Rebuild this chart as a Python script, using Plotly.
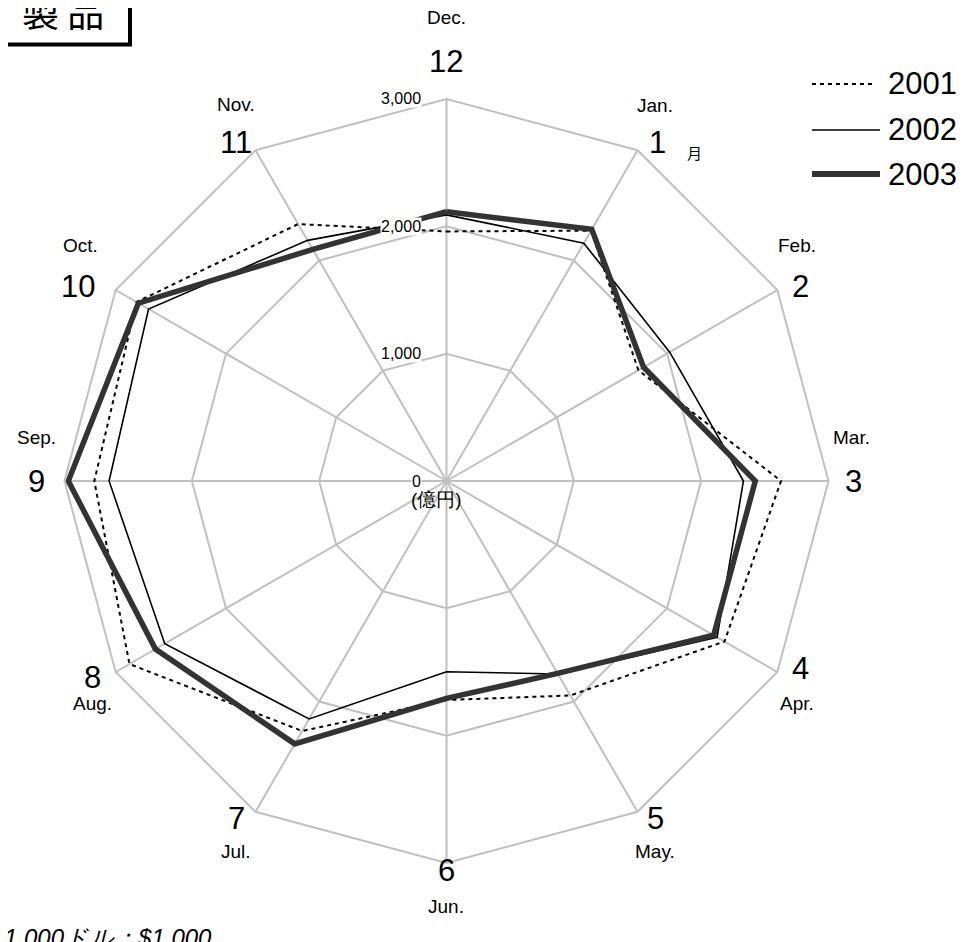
import plotly.graph_objects as go

# ---------------- data ----------------
months = ["12", "1", "2", "3", "4", "5", "6", "7", "8", "9", "10", "11"]
month_abbr = ["Dec.", "Jan.", "Feb.", "Mar.", "Apr.", "May.", "Jun.", "Jul.", "Aug.", "Sep.", "Oct.", "Nov."]
series_names = ["2001", "2002", "2003"]
y2001 = [1960, 2270, 1740, 2627, 2521, 1945, 1720, 2267, 2875, 2766, 2811, 2330]
y2002 = [2090, 2157, 2024, 2332, 2454, 1750, 1498, 2158, 2555, 2650, 2702, 2182]
y2003 = [2115, 2282, 1787, 2425, 2423, 1745, 1707, 2384, 2640, 2970, 2794, 2100]
radial_ticks = [0, 1000, 2000, 3000]
radial_tick_labels = ["0", "1,000", "2,000", "3,000"]
unit_label = "(億円)"
month_unit = "月"
title_text = "製 品"
note_text = "1,000ドル：$1,000"

# ---------------- page geometry ----------------
OFF = 8
W, H = 960, 934
def px(x):
    return (x - OFF) / W
def py(y):
    return 1 - (y - OFF) / H

CX, CY, R = 446.5, 481.0, 382.0
RMAX = 3000

FONT = "Liberation Sans, Arial, sans-serif"
JFONT = "Noto Sans CJK JP, sans-serif"
GRID = "#c0c0c0"

fig = go.Figure()

styles = [
    dict(color="black", width=2, dash="4px,4px"),
    dict(color="black", width=1.6),
    dict(color="#333333", width=5.5),
]
for name, vals, st in zip(series_names, [y2001, y2002, y2003], styles):
    fig.add_trace(go.Scatterpolar(
        r=vals + [vals[0]], theta=months + [months[0]],
        mode="lines", line=st, name=name, showlegend=False,
        hoverinfo="skip"))

fig.update_layout(
    width=W, height=H,
    margin=dict(l=0, r=0, t=0, b=0),
    paper_bgcolor="white",
    polar=dict(
        domain=dict(x=[px(CX - R), px(CX + R)], y=[py(CY + R), py(CY - R)]),
        bgcolor="white",
        gridshape="linear",
        angularaxis=dict(
            type="category", categoryarray=months, rotation=90,
            direction="clockwise", showticklabels=False, ticks="",
            showgrid=True, gridcolor=GRID, gridwidth=2,
            showline=True, linecolor=GRID, linewidth=2),
        radialaxis=dict(
            range=[0, RMAX], tickvals=radial_ticks[1:], showticklabels=False,
            ticks="", showgrid=True, gridcolor=GRID, gridwidth=2,
            showline=False),
    ),
)

def note(text, x, y, size, family=FONT, xanchor="center", yanchor="middle", **kw):
    d = dict(text=text, x=px(x), y=py(y), xref="paper", yref="paper",
             showarrow=False, xanchor=xanchor, yanchor=yanchor,
             font=dict(family=family, size=size, color="black", **kw.pop("font_extra", {})))
    d.update(kw)
    return d

ann = []
label_pos = {
    "12": (446, 62), "1": (657, 143), "2": (800, 286), "3": (853, 481),
    "4": (800, 668), "5": (655, 818), "6": (446, 870), "7": (236, 818),
    "8": (92, 677), "9": (36, 481), "10": (78, 286), "11": (236, 143),
}
abbr_pos = {
    "Dec.": (446, 18), "Jan.": (655, 105), "Feb.": (797, 246), "Mar.": (851, 437),
    "Apr.": (797, 703), "May.": (655, 851), "Jun.": (446, 906), "Jul.": (236, 851),
    "Aug.": (92, 703), "Sep.": (36, 437), "Oct.": (80, 246), "Nov.": (236, 104),
}
for m in months:
    x, y = label_pos[m]
    ann.append(note(m, x, y, 31))
for a in month_abbr:
    x, y = abbr_pos[a]
    ann.append(note(a, x, y, 19))
ann.append(note(month_unit, 694, 152, 15, family=JFONT))

# radial labels
for v, t in zip(radial_ticks, radial_tick_labels):
    ann.append(note(t, 422, CY - R * v / RMAX, 16, xanchor="right",
                    bgcolor="white", borderpad=0))
ann.append(note(unit_label, 436, 499, 19))

# manual legend
leg_y = [84, 130, 174]
for name, yy in zip(series_names, leg_y):
    ann.append(note(name, 886, yy, 31, xanchor="left"))
shapes = [
    dict(type="line", xref="paper", yref="paper", x0=px(812), x1=px(872), y0=py(84), y1=py(84),
         line=dict(color="black", width=2, dash="4px,4px")),
    dict(type="line", xref="paper", yref="paper", x0=px(812), x1=px(880), y0=py(130), y1=py(130),
         line=dict(color="black", width=1.6)),
    dict(type="line", xref="paper", yref="paper", x0=px(812), x1=px(880), y0=py(174), y1=py(174),
         line=dict(color="#333333", width=6)),
    dict(type="rect", xref="paper", yref="paper", x0=px(-10), x1=px(130), y0=py(44.5), y1=py(-10),
         line=dict(color="black", width=4)),
]
ann.append(note(title_text, 63, 11, 37, family=JFONT))
ann.append(note(note_text, 2, 922, 24, xanchor="left", yanchor="top",
                font_extra=dict(style="italic")))

fig.update_layout(annotations=ann, shapes=shapes)
fig.write_html("out.html")
